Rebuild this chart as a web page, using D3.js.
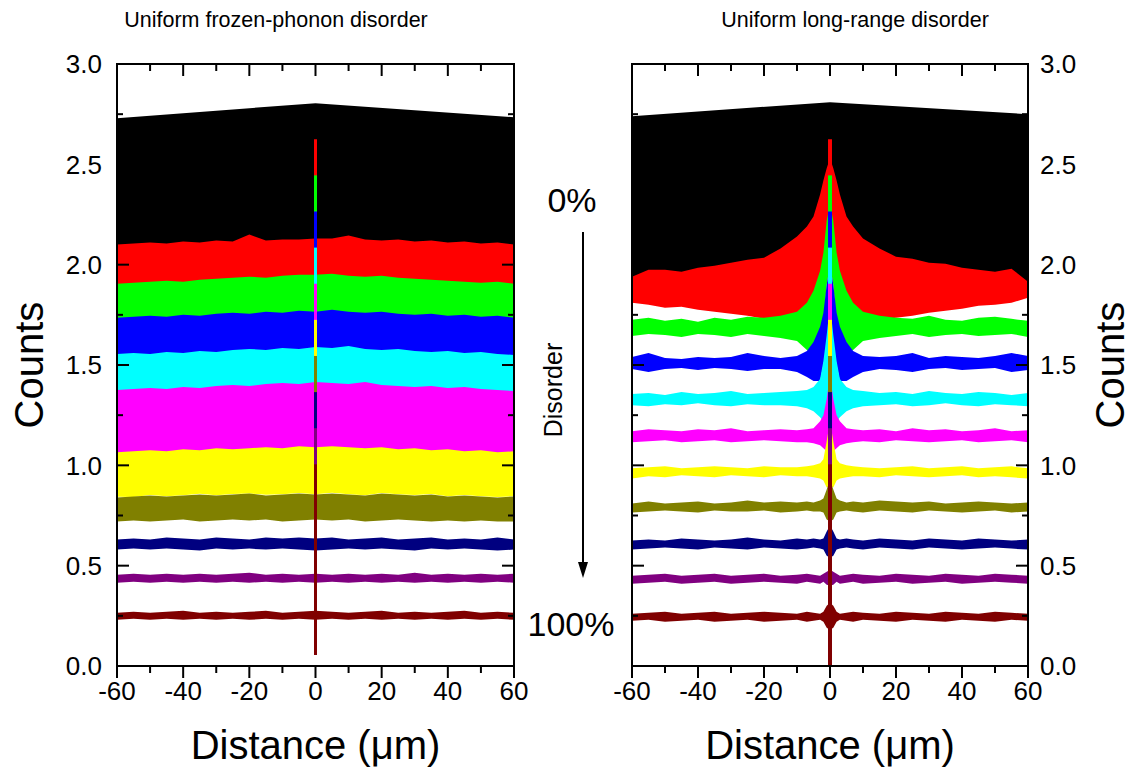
<!DOCTYPE html>
<html><head><meta charset="utf-8">
<script src="https://cdn.jsdelivr.net/npm/d3@7"></script>
<style>body{margin:0;background:#fff}svg{display:block}text{font-family:"Liberation Sans",Arial,sans-serif;fill:#000}</style>
</head><body><svg id="c" width="1131" height="774"></svg>
<script>
// ---------------- data ----------------
const seriesColors = ["#ff0000","#00ff00","#0000ff","#00ffff","#ff00ff","#ffff00","#808000","#000080","#800080","#800000"];
const xTickMajor = [-60,-40,-20,0,20,40,60];
const xTickMinor = [-50,-30,-10,10,30,50];
const yTickMajor = [0,0.5,1.0,1.5,2.0,2.5,3.0];
const yTickMinor = [0.25,0.75,1.25,1.75,2.25,2.75];
const spikePeaks = [2.625,2.445,2.265,2.085,1.905,1.725,1.545,1.365,1.185,1.005];

// black background band (both panels)
const blackX = [-60,0,60];
const blackHiL = [2.73,2.805,2.735];
const blackLoL = [2.0,2.0,2.0];
const blackHiR = [2.74,2.81,2.75];
const blackLoR = [1.88,1.95,1.88];

// left panel: uniform frozen-phonon disorder
const xL = [-60,-55,-50,-45,-40,-35,-30,-25,-20,-15,-10,-5,0,5,10,15,20,25,30,35,40,45,50,55,60];
const redHiL = [2.10,2.105,2.11,2.105,2.115,2.11,2.12,2.115,2.15,2.12,2.125,2.125,2.13,2.13,2.145,2.125,2.12,2.125,2.115,2.12,2.11,2.115,2.105,2.11,2.10];
const redLoL = [1.89,1.895,1.9,1.9,1.905,1.91,1.91,1.915,1.92,1.925,1.93,1.93,1.935,1.93,1.93,1.925,1.92,1.915,1.91,1.91,1.905,1.9,1.9,1.895,1.89];
const greenHiL = [1.905,1.91,1.915,1.92,1.915,1.925,1.93,1.935,1.94,1.935,1.945,1.95,1.95,1.955,1.945,1.94,1.945,1.935,1.93,1.925,1.92,1.915,1.91,1.915,1.905];
const greenLoL = [1.72,1.725,1.73,1.73,1.735,1.735,1.74,1.745,1.745,1.75,1.75,1.755,1.755,1.755,1.75,1.75,1.745,1.745,1.74,1.74,1.735,1.73,1.73,1.725,1.72];
const blueHiL = [1.735,1.74,1.745,1.74,1.75,1.745,1.755,1.76,1.755,1.765,1.76,1.77,1.765,1.775,1.765,1.76,1.765,1.755,1.75,1.755,1.745,1.75,1.74,1.745,1.735];
const blueLoL = [1.54,1.545,1.545,1.55,1.55,1.555,1.56,1.56,1.565,1.565,1.57,1.57,1.575,1.57,1.57,1.565,1.565,1.56,1.56,1.555,1.55,1.55,1.545,1.545,1.54];
const cyanHiL = [1.555,1.56,1.555,1.565,1.56,1.57,1.565,1.575,1.58,1.575,1.585,1.58,1.59,1.585,1.595,1.58,1.575,1.58,1.57,1.565,1.57,1.56,1.565,1.555,1.55];
const cyanLoL = [1.36,1.365,1.365,1.37,1.37,1.375,1.38,1.38,1.385,1.385,1.39,1.39,1.395,1.39,1.39,1.385,1.385,1.38,1.38,1.375,1.37,1.37,1.365,1.365,1.36];
const magentaHiL = [1.375,1.38,1.385,1.38,1.39,1.385,1.395,1.40,1.395,1.405,1.41,1.405,1.415,1.41,1.405,1.415,1.40,1.395,1.39,1.395,1.385,1.39,1.38,1.375,1.37];
const magentaLoL = [1.06,1.06,1.065,1.065,1.07,1.07,1.075,1.075,1.08,1.08,1.08,1.085,1.085,1.085,1.08,1.08,1.08,1.075,1.075,1.07,1.07,1.065,1.065,1.06,1.06];
const yellowHiL = [1.065,1.07,1.075,1.07,1.08,1.075,1.085,1.08,1.085,1.09,1.085,1.095,1.09,1.095,1.09,1.085,1.09,1.08,1.085,1.075,1.08,1.07,1.075,1.065,1.07];
const yellowLoL = [0.843,0.842,0.852,0.846,0.851,0.858,0.851,0.857,0.86,0.853,0.856,0.862,0.856,0.863,0.856,0.851,0.862,0.856,0.852,0.857,0.846,0.852,0.846,0.842,0.846];
const oliveHiL = [0.84,0.845,0.85,0.845,0.85,0.855,0.85,0.855,0.86,0.85,0.855,0.86,0.855,0.86,0.855,0.85,0.86,0.855,0.85,0.855,0.845,0.85,0.845,0.84,0.845];
const oliveLoL = [0.72,0.725,0.72,0.725,0.73,0.72,0.725,0.73,0.725,0.73,0.72,0.725,0.73,0.725,0.73,0.72,0.725,0.73,0.725,0.72,0.725,0.72,0.725,0.72,0.72];
const navyHiL = [0.63,0.635,0.63,0.64,0.635,0.63,0.64,0.635,0.63,0.64,0.635,0.64,0.635,0.64,0.63,0.635,0.64,0.63,0.635,0.64,0.63,0.635,0.63,0.64,0.63];
const navyLoL = [0.58,0.585,0.58,0.585,0.58,0.575,0.585,0.58,0.585,0.58,0.585,0.58,0.575,0.58,0.585,0.58,0.585,0.58,0.575,0.585,0.58,0.585,0.58,0.575,0.58];
const purpleHiL = [0.455,0.46,0.455,0.46,0.455,0.46,0.455,0.46,0.465,0.455,0.46,0.455,0.46,0.455,0.46,0.455,0.46,0.455,0.465,0.455,0.46,0.455,0.46,0.455,0.46];
const purpleLoL = [0.415,0.42,0.415,0.42,0.415,0.42,0.415,0.42,0.415,0.42,0.415,0.42,0.415,0.42,0.415,0.42,0.415,0.42,0.415,0.42,0.415,0.42,0.415,0.42,0.415];
const darkredHiL = [0.265,0.27,0.265,0.27,0.275,0.265,0.27,0.265,0.27,0.275,0.265,0.27,0.275,0.27,0.265,0.27,0.275,0.265,0.27,0.265,0.27,0.275,0.265,0.27,0.265];
const darkredLoL = [0.23,0.235,0.23,0.235,0.23,0.235,0.23,0.235,0.23,0.235,0.23,0.235,0.23,0.235,0.23,0.235,0.23,0.235,0.23,0.235,0.23,0.235,0.23,0.235,0.23];

// right panel: uniform long-range disorder
const xR = [-60,-55,-50,-45,-40,-35,-30,-25,-20,-15,-10,-7,-5,-3,-2,-1,0,1,2,3,5,7,10,15,20,25,30,35,40,45,50,55,60];
const redHiR = [1.94,1.975,1.975,1.965,1.985,1.995,2.01,2.025,2.035,2.08,2.14,2.19,2.24,2.35,2.42,2.48,2.53,2.48,2.42,2.35,2.24,2.19,2.13,2.08,2.04,2.03,2.01,2.005,1.985,1.975,1.965,1.98,1.915];
const redLoR = [1.81,1.80,1.785,1.79,1.775,1.765,1.755,1.745,1.73,1.725,1.73,1.76,1.80,1.9,2.0,2.1,2.2,2.1,2.0,1.9,1.80,1.76,1.725,1.725,1.735,1.745,1.76,1.77,1.78,1.795,1.80,1.81,1.835];
const greenHiR = [1.725,1.735,1.72,1.73,1.715,1.735,1.725,1.74,1.735,1.745,1.765,1.81,1.87,1.97,2.06,2.22,2.3,2.22,2.06,1.97,1.87,1.81,1.765,1.745,1.735,1.73,1.745,1.725,1.72,1.735,1.74,1.73,1.72];
const greenLoR = [1.645,1.655,1.65,1.64,1.655,1.65,1.64,1.655,1.645,1.635,1.62,1.575,1.55,1.6,1.7,1.9,2.0,1.9,1.7,1.6,1.55,1.575,1.62,1.635,1.645,1.655,1.64,1.65,1.655,1.645,1.65,1.655,1.64];
const blueHiR = [1.54,1.56,1.535,1.53,1.54,1.535,1.54,1.56,1.545,1.535,1.545,1.57,1.615,1.69,1.76,1.9,2.0,1.9,1.76,1.69,1.615,1.57,1.545,1.54,1.545,1.56,1.535,1.545,1.54,1.535,1.545,1.56,1.545];
const blueLoR = [1.48,1.465,1.48,1.485,1.475,1.485,1.48,1.47,1.48,1.48,1.465,1.44,1.42,1.42,1.5,1.6,1.7,1.6,1.5,1.42,1.42,1.44,1.465,1.48,1.475,1.465,1.48,1.485,1.475,1.48,1.485,1.465,1.475];
const cyanHiR = [1.355,1.36,1.35,1.365,1.355,1.36,1.37,1.355,1.36,1.365,1.37,1.375,1.39,1.43,1.52,1.65,1.8,1.65,1.52,1.43,1.39,1.375,1.37,1.36,1.365,1.355,1.37,1.36,1.355,1.365,1.36,1.35,1.36];
const cyanLoR = [1.3,1.295,1.305,1.3,1.31,1.3,1.295,1.305,1.3,1.3,1.295,1.285,1.27,1.24,1.22,1.2,1.3,1.2,1.22,1.24,1.27,1.285,1.295,1.3,1.305,1.295,1.3,1.31,1.3,1.295,1.305,1.3,1.295];
const magentaHiR = [1.17,1.18,1.175,1.17,1.18,1.175,1.185,1.17,1.175,1.18,1.175,1.18,1.185,1.22,1.25,1.33,1.45,1.33,1.25,1.22,1.185,1.18,1.175,1.18,1.17,1.185,1.175,1.18,1.17,1.175,1.185,1.17,1.175];
const magentaLoR = [1.115,1.12,1.125,1.115,1.12,1.125,1.115,1.12,1.125,1.12,1.115,1.115,1.11,1.1,1.085,1.07,1.1,1.07,1.085,1.1,1.11,1.115,1.12,1.115,1.125,1.12,1.115,1.12,1.125,1.115,1.12,1.125,1.115];
const yellowHiR = [0.985,0.99,0.995,0.985,0.99,0.995,0.99,0.985,0.995,0.99,0.99,0.995,1.0,1.01,1.03,1.12,1.22,1.12,1.03,1.01,1.0,0.995,0.99,0.985,0.99,0.995,0.985,0.99,0.995,0.985,0.99,0.995,0.985];
const yellowLoR = [0.935,0.945,0.94,0.95,0.945,0.94,0.95,0.945,0.94,0.95,0.945,0.945,0.94,0.935,0.925,0.89,0.9,0.89,0.925,0.935,0.94,0.945,0.945,0.94,0.95,0.945,0.94,0.945,0.95,0.94,0.945,0.94,0.935];
const oliveHiR = [0.81,0.82,0.81,0.815,0.82,0.81,0.815,0.825,0.815,0.82,0.815,0.82,0.815,0.825,0.835,0.88,0.93,0.88,0.835,0.825,0.815,0.82,0.815,0.825,0.82,0.815,0.82,0.81,0.815,0.82,0.815,0.81,0.815];
const oliveLoR = [0.765,0.77,0.775,0.77,0.765,0.775,0.77,0.77,0.775,0.765,0.77,0.775,0.77,0.77,0.765,0.73,0.72,0.73,0.765,0.77,0.775,0.77,0.765,0.775,0.77,0.765,0.775,0.77,0.765,0.77,0.775,0.765,0.77];
const navyHiR = [0.625,0.63,0.625,0.635,0.63,0.625,0.63,0.64,0.63,0.625,0.635,0.63,0.635,0.63,0.635,0.67,0.7,0.67,0.635,0.63,0.635,0.63,0.625,0.635,0.63,0.625,0.635,0.63,0.625,0.635,0.63,0.625,0.63];
const navyLoR = [0.58,0.585,0.59,0.585,0.58,0.59,0.585,0.58,0.59,0.585,0.58,0.585,0.59,0.585,0.58,0.55,0.54,0.55,0.58,0.585,0.59,0.585,0.58,0.59,0.585,0.58,0.59,0.585,0.58,0.585,0.59,0.585,0.58];
const purpleHiR = [0.45,0.455,0.46,0.45,0.455,0.46,0.45,0.455,0.46,0.45,0.455,0.46,0.455,0.45,0.46,0.47,0.48,0.47,0.46,0.45,0.455,0.46,0.455,0.45,0.46,0.455,0.45,0.46,0.455,0.45,0.46,0.455,0.45];
const purpleLoR = [0.41,0.415,0.42,0.41,0.415,0.42,0.41,0.415,0.42,0.415,0.41,0.42,0.415,0.41,0.42,0.405,0.4,0.405,0.42,0.41,0.415,0.42,0.41,0.415,0.42,0.41,0.415,0.42,0.41,0.415,0.42,0.415,0.41];
const darkredHiR = [0.26,0.265,0.27,0.26,0.265,0.27,0.26,0.265,0.27,0.265,0.26,0.27,0.265,0.26,0.27,0.3,0.315,0.3,0.27,0.26,0.265,0.27,0.265,0.26,0.27,0.265,0.26,0.27,0.265,0.26,0.27,0.265,0.26];
const darkredLoR = [0.225,0.23,0.22,0.225,0.23,0.22,0.225,0.23,0.22,0.225,0.23,0.22,0.225,0.23,0.22,0.19,0.18,0.19,0.22,0.23,0.225,0.22,0.23,0.225,0.22,0.23,0.225,0.22,0.23,0.225,0.22,0.23,0.225];

// ---------------- drawing ----------------
const svg = d3.select("#c");
const y = d3.scaleLinear().domain([0,3]).range([666,64]);
const xLeft = d3.scaleLinear().domain([-60,60]).range([117,514]);
const xRight = d3.scaleLinear().domain([-60,60]).range([632,1028]);

const hisL = [redHiL,greenHiL,blueHiL,cyanHiL,magentaHiL,yellowHiL,oliveHiL,navyHiL,purpleHiL,darkredHiL];
const losL = [redLoL,greenLoL,blueLoL,cyanLoL,magentaLoL,yellowLoL,oliveLoL,navyLoL,purpleLoL,darkredLoL];
const hisR = [redHiR,greenHiR,blueHiR,cyanHiR,magentaHiR,yellowHiR,oliveHiR,navyHiR,purpleHiR,darkredHiR];
const losR = [redLoR,greenLoR,blueLoR,cyanLoR,magentaLoR,yellowLoR,oliveLoR,navyLoR,purpleLoR,darkredLoR];

function panel(id, x, xs, his, los, bHi, bLo, spikeBase, spikeHalf, yLabelSide) {
  const [x0,x1] = x.range();
  svg.append("clipPath").attr("id","clip"+id).append("rect")
     .attr("x",x0).attr("y",y(3)).attr("width",x1-x0).attr("height",y(0)-y(3));
  const g = svg.append("g").attr("clip-path","url(#clip"+id+")");
  const area = d3.area().x(d=>x(d[0])).y0(d=>y(d[1])).y1(d=>y(d[2]));
  g.append("path").attr("d", area(blackX.map((v,i)=>[v,bLo[i],bHi[i]]))).attr("fill","#000");
  his.forEach((hi,k)=>{
    const lo = los[k];
    g.append("path").attr("d", area(xs.map((v,i)=>[v,lo[i],hi[i]]))).attr("fill",seriesColors[k]);
    g.append("rect").attr("x",x(-spikeHalf)).attr("width",x(spikeHalf)-x(-spikeHalf))
      .attr("y",y(spikePeaks[k])).attr("height",y(spikeBase)-y(spikePeaks[k]))
      .attr("fill",seriesColors[k]);
  });
  const ax = svg.append("g").attr("class","axes");
  const tick = (sel)=>sel.attr("stroke","#000").attr("stroke-width",2);
  xTickMajor.forEach(v=>{
    tick(ax.append("line").attr("x1",x(v)).attr("x2",x(v)).attr("y1",y(0)).attr("y2",y(0)+12));
    tick(ax.append("line").attr("x1",x(v)).attr("x2",x(v)).attr("y1",y(3)).attr("y2",y(3)+12));
  });
  xTickMinor.forEach(v=>{
    tick(ax.append("line").attr("x1",x(v)).attr("x2",x(v)).attr("y1",y(0)).attr("y2",y(0)+7));
    tick(ax.append("line").attr("x1",x(v)).attr("x2",x(v)).attr("y1",y(3)).attr("y2",y(3)+7));
  });
  yTickMajor.forEach(v=>{
    tick(ax.append("line").attr("x1",x0).attr("x2",x0+12).attr("y1",y(v)).attr("y2",y(v)));
    tick(ax.append("line").attr("x1",x1-12).attr("x2",x1).attr("y1",y(v)).attr("y2",y(v)));
  });
  yTickMinor.forEach(v=>{
    tick(ax.append("line").attr("x1",x0).attr("x2",x0+6).attr("y1",y(v)).attr("y2",y(v)));
    tick(ax.append("line").attr("x1",x1-6).attr("x2",x1).attr("y1",y(v)).attr("y2",y(v)));
  });
  ax.append("rect").attr("x",x0).attr("y",y(3)).attr("width",x1-x0).attr("height",y(0)-y(3))
    .attr("fill","none").attr("stroke","#000").attr("stroke-width",2);
  ax.selectAll(null).data(xTickMajor).join("text")
    .attr("x",d=>x(d)).attr("y",700).attr("text-anchor","middle").attr("font-size",26).text(d=>d);
  const fmt = d3.format(".1f");
  ax.selectAll(null).data(yTickMajor).join("text")
    .attr("x", yLabelSide==="left" ? x0-15 : x1+12).attr("y",d=>y(d)).attr("dy","0.36em")
    .attr("text-anchor", yLabelSide==="left" ? "end" : "start").attr("font-size",26).text(d=>fmt(d));
  ax.append("text").attr("x",(x0+x1)/2).attr("y",759).attr("text-anchor","middle").attr("font-size",40)
    .text("Distance (μm)");
}

panel("L", xLeft, xL, hisL, losL, blackHiL, blackLoL, 0.055, 0.45, "left");
panel("R", xRight, xR, hisR, losR, blackHiR, blackLoR, 0.0, 0.6, "right");

svg.append("text").attr("x",276).attr("y",27).attr("text-anchor","middle").attr("font-size",21.5).text("Uniform frozen-phonon disorder");
svg.append("text").attr("x",855).attr("y",27).attr("text-anchor","middle").attr("font-size",21.5).text("Uniform long-range disorder");
svg.append("text").attr("transform","translate(43,365) rotate(-90)").attr("text-anchor","middle").attr("font-size",40).text("Counts");
svg.append("text").attr("transform","translate(1124,365) rotate(-90)").attr("text-anchor","middle").attr("font-size",40).text("Counts");
svg.append("text").attr("x",572).attr("y",212).attr("text-anchor","middle").attr("font-size",34).text("0%");
svg.append("text").attr("x",571).attr("y",636).attr("text-anchor","middle").attr("font-size",34).text("100%");
svg.append("text").attr("transform","translate(562,390) rotate(-90)").attr("text-anchor","middle").attr("font-size",25).text("Disorder");
svg.append("line").attr("x1",583).attr("x2",583).attr("y1",232).attr("y2",566).attr("stroke","#000").attr("stroke-width",2);
svg.append("path").attr("d","M578,562 L588,562 L583,578 Z").attr("fill","#000");
</script></body></html>
